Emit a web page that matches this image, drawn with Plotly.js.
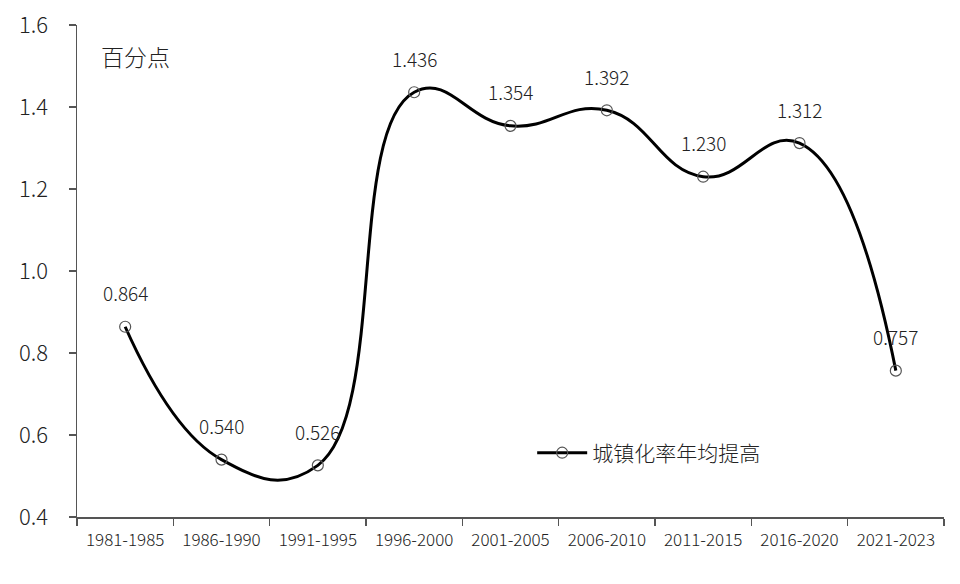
<!DOCTYPE html>
<html><head><meta charset="utf-8">
<script src="https://cdn.plot.ly/plotly-3.0.1.min.js"></script>
<style>body{margin:0;background:#fff}#c{width:960px;height:584px}</style>
</head><body><div id="c"></div>
<script>
const periods = ["1981-1985","1986-1990","1991-1995","1996-2000","2001-2005","2006-2010","2011-2015","2016-2020","2021-2023"];
const rates = [0.864,0.540,0.526,1.436,1.354,1.392,1.230,1.312,0.757];
const seriesName = "城镇化率年均提高";
const unitLabel = "百分点";
const yTicks = [0.4,0.6,0.8,1.0,1.2,1.4,1.6];

const font = "'Noto Sans CJK SC','Open Sans',sans-serif";
const W = 300;
const trace = {
  x: periods, y: rates, type: "scatter", mode: "lines+markers", name: seriesName,
  line: {color: "#000", width: 3, shape: "spline", smoothing: 1.3},
  marker: {symbol: "circle-open", size: 11, color: "#555", line: {width: 1.2, color: "#555"}},
  cliponaxis: false
};
const anns = periods.map((p, i) => ({
  x: p, y: rates[i], xref: "x", yref: "y", text: rates[i].toFixed(3),
  showarrow: false, yshift: 34, font: {family: font, size: 19, color: "#222", weight: W}
}));
anns.push({x: 0.025, y: 0.975, xref: "paper", yref: "paper", xanchor: "left", yanchor: "top",
  text: unitLabel, showarrow: false, font: {family: font, size: 23, color: "#222", weight: W}});
const layout = {
  width: 960, height: 584,
  margin: {l: 77, r: 16, t: 25, b: 67},
  paper_bgcolor: "#fff", plot_bgcolor: "#fff",
  showlegend: true,
  legend: {x: 0.525, y: 0.13, xanchor: "left", yanchor: "middle", bgcolor: "rgba(0,0,0,0)",
    itemwidth: 50,
    font: {family: font, size: 21, color: "#222", weight: W}},
  xaxis: {type: "category", range: [-0.5, 8.5], tickson: "boundaries", ticks: "outside", ticklen: 7,
    tickcolor: "#555", tickwidth: 1.5, showline: true, linecolor: "#555", linewidth: 1.5,
    showgrid: false, zeroline: false, ticklabelstandoff: 7,
    tickfont: {family: font, size: 17, color: "#222", weight: W}},
  yaxis: {range: [0.4, 1.6], tickvals: yTicks, ticktext: yTicks.map(v => v.toFixed(1)),
    ticks: "outside", ticklen: 7, tickcolor: "#555", tickwidth: 1.5,
    showline: true, linecolor: "#555", linewidth: 1.5, showgrid: false, zeroline: false,
    tickfont: {family: font, size: 22, color: "#222", weight: W}, ticklabelstandoff: 16},
  annotations: anns
};
Plotly.newPlot("c", [trace], layout, {displayModeBar: false, staticPlot: true});
</script></body></html>
